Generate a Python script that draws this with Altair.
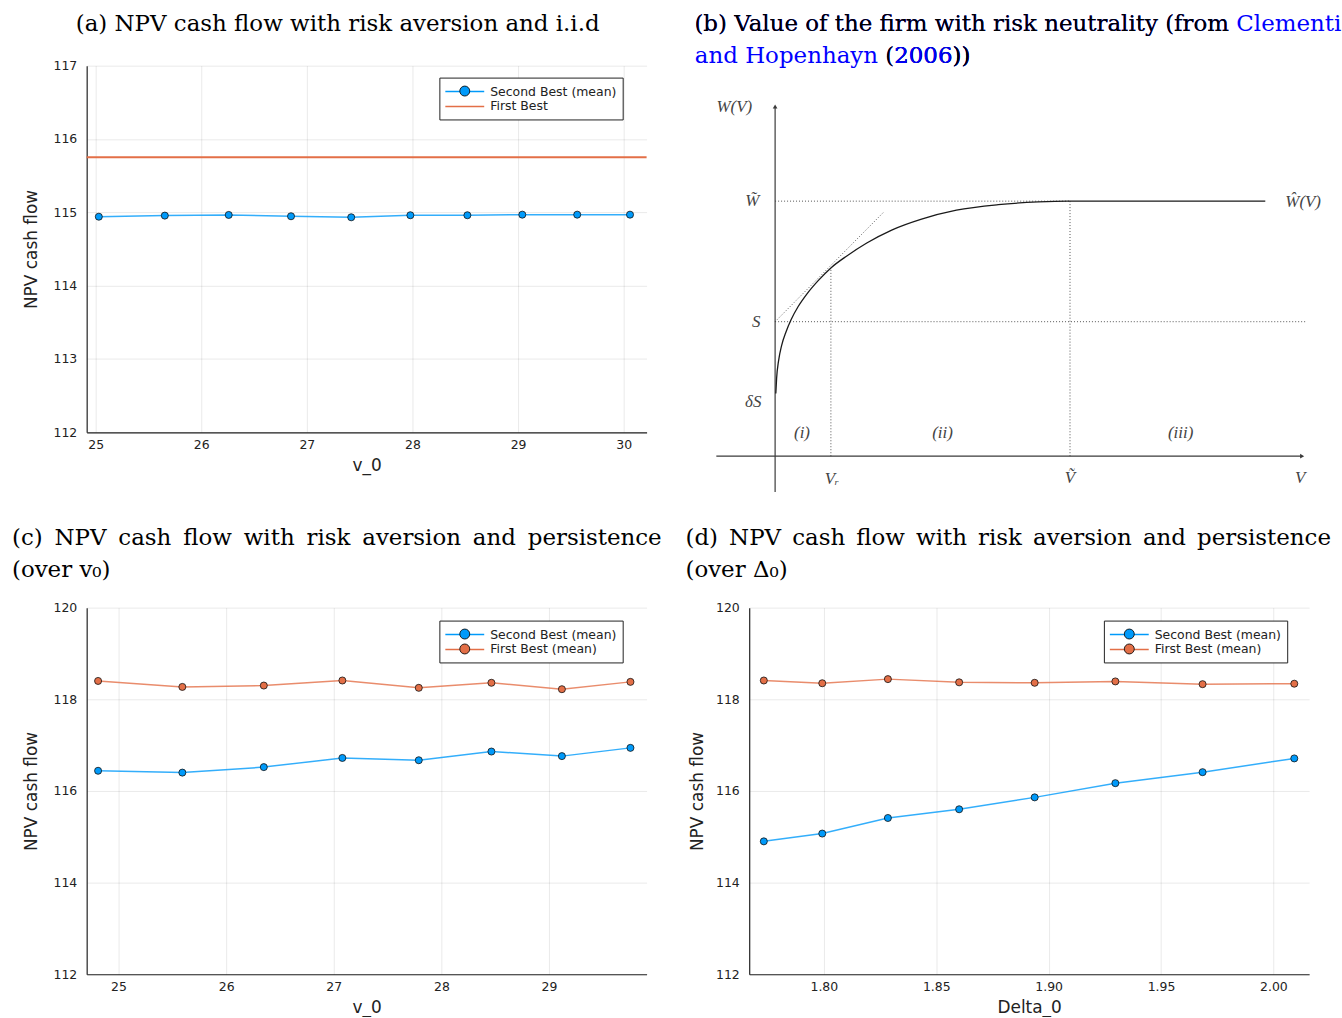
import altair as alt
import pandas as pd

# ---------------- data ----------------
# (a) NPV cash flow, risk aversion, i.i.d
a_v0 = [25.03, 25.655, 26.26, 26.85, 27.42, 27.98, 28.52, 29.04, 29.56, 30.06]
a_second = [114.94, 114.955, 114.964, 114.946, 114.932, 114.96, 114.96, 114.968, 114.968, 114.968]
a_first = [115.75]

# (c) persistence, over v_0
c_v0 = [24.81, 25.593, 26.35, 27.08, 27.79, 28.465, 29.12, 29.757]
c_second = [116.44, 116.40, 116.52, 116.72, 116.67, 116.86, 116.76, 116.94]
c_first = [118.40, 118.27, 118.30, 118.41, 118.25, 118.36, 118.22, 118.38]

# (d) persistence, over Delta_0
d_delta0 = [1.7733, 1.7993, 1.8285, 1.8602, 1.8938, 1.9297, 1.9685, 2.0093]
d_second = [114.90, 115.07, 115.41, 115.60, 115.86, 116.17, 116.41, 116.71]
d_first = [118.41, 118.35, 118.44, 118.37, 118.36, 118.39, 118.33, 118.34]

# (b) schematic diagram (Clementi & Hopenhayn 2006), in diagram units
b_curve_V = [0.007, 0.015, 0.035, 0.065, 0.11, 0.16, 0.23, 0.32, 0.43, 0.56, 0.72, 0.92,
             1.17, 1.47, 1.82, 2.24, 2.64, 2.94, 4.92]
b_curve_W = [0.63, 0.78, 0.96, 1.11, 1.25, 1.37, 1.50, 1.63, 1.76, 1.89, 2.01, 2.14,
             2.27, 2.38, 2.47, 2.525, 2.552, 2.56, 2.56]
b_dot_x1 = [0.0, 0.0, 0.56, 2.96, 0.0]
b_dot_y1 = [2.56, 1.35, 0.0, 0.0, 1.35]
b_dot_x2 = [2.96, 5.34, 0.56, 2.96, 1.09]
b_dot_y2 = [2.56, 1.35, 1.89, 2.56, 2.45]
b_ax_x1 = [0.0, -0.59]
b_ax_y1 = [-0.36, 0.0]
b_ax_x2 = [0.0, 5.28]
b_ax_y2 = [3.50, 0.0]
b_arrow_x = [0.0, 5.29]
b_arrow_y = [3.51, 0.0]
b_arrow_shape = ["triangle-up", "triangle-right"]
b_lab_text = ["W(V)", "W\u0303", "S", "\u03b4S", "(i)", "(ii)", "(iii)", "V\u1d63", "\u1e7c", "V", "\u0174(V)"]
b_lab_x = [-0.41, -0.23, -0.19, -0.22, 0.27, 1.68, 4.07, 0.57, 2.96, 5.27, 5.30]
b_lab_y = [3.50, 2.56, 1.35, 0.54, 0.23, 0.23, 0.23, -0.23, -0.22, -0.22, 2.55]

SB = "Second Best (mean)"
FB = "First Best"
FBM = "First Best (mean)"
title_a = "(a) NPV cash flow with risk aversion and i.i.d"
title_b1 = "(b) Value of the firm with risk neutrality (from Clementi"
title_b1_black = "(b) Value of the firm with risk neutrality (from"
title_b2 = "and Hopenhayn (2006))"
title_cd_line1 = "NPV cash flow with risk aversion and persistence"
title_c = "(c) " + title_cd_line1 + "\n(over v\u2080)"
title_d = "(d) " + title_cd_line1 + "\n(over \u0394\u2080)"
# emulate LaTeX justification by widening inter-word gaps of the first line
title_c = title_c.split("\n")[0].replace(" ", " \u2009") + "\n" + title_c.split("\n")[1]
title_d = title_d.split("\n")[0].replace(" ", " \u2006") + "\n" + title_d.split("\n")[1]

# ---------------- style ----------------
BLUE = "#009AFA"
ORANGE = "#E36F47"
LINKBLUE = "#0000FF"
W, H = 562, 368
SANS = "DejaVu Sans"
SERIF = "DejaVu Serif"
TFS = 23
NB = "\u00a0"  # suffix so that the marker legend does not merge with the line legend

LINE_PATH = "M-1.143,0L4.43,0"
DOT_PATH = "M2.428,0A0.714,0.714,0,1,1,1.0,0A0.714,0.714,0,1,1,2.428,0Z"


def legend_line(x, y):
    return alt.Legend(title=None, orient="none", legendX=x, legendY=y,
                      symbolType=LINE_PATH, symbolSize=196, symbolStrokeWidth=1.6,
                      symbolOpacity=1, labelOffset=29, labelFont=SANS, labelFontSize=12.5,
                      labelColor="#222", labelExpr="datum.label + '\u2003'",
                      padding=6, rowPadding=0, strokeColor="#222",
                      fillColor="white", cornerRadius=0)


def legend_dot(x, y):
    return alt.Legend(title=None, orient="none", legendX=x, legendY=y,
                      symbolType=DOT_PATH, symbolSize=196, symbolStrokeColor="#111",
                      symbolStrokeWidth=0.9, symbolOpacity=1, labelOffset=29,
                      labelFont=SANS, labelFontSize=12.5, labelOpacity=0,
                      padding=6, rowPadding=0)


def axis_x(values, fmt, title):
    return alt.Axis(values=values, format=fmt, title=title, grid=True, gridColor="#000",
                    gridOpacity=0.09, gridWidth=1, domainColor="#222", domainWidth=1.2,
                    ticks=False, labelFont=SANS, labelFontSize=12.5, labelColor="#222",
                    labelPadding=6, labelFlush=False, titleFont=SANS, titleFontSize=17,
                    titleFontWeight="normal", titleColor="#222", titleY=33,
                    titleBaseline="middle")


def axis_y(values, title_x):
    return alt.Axis(values=values, format="d", title="NPV cash flow", grid=True,
                    gridColor="#000", gridOpacity=0.09, gridWidth=1, domainColor="#222",
                    domainWidth=1.2, ticks=False, labelFont=SANS, labelFontSize=12.5,
                    labelColor="#222", labelPadding=10, titleFont=SANS, titleFontSize=17,
                    titleFontWeight="normal", titleColor="#222", titleX=title_x,
                    titleY=H / 2, titleAngle=270, titleBaseline="middle", titleAlign="center")


def title_text(text, x, y, color="black", align="left"):
    return alt.Chart(pd.DataFrame({"t": [text]})).mark_text(
        align=align, baseline="alphabetic", font=SERIF, fontSize=TFS, color=color,
        lineBreak="\n", lineHeight=32
    ).encode(x=alt.value(x), y=alt.value(y), text="t:N")


def data_panel(xs, second, first, xdom, xvals, xfmt, xtitle, ydom, yvals, ytx,
               legx, legy, title, tx, ty, first_as_rule=False):
    sx = alt.Scale(domain=xdom, nice=False, zero=False)
    sy = alt.Scale(domain=ydom, nice=False, zero=False)
    X = alt.X("x:Q", scale=sx, axis=axis_x(xvals, xfmt, xtitle))
    Y = alt.Y("y:Q", scale=sy, axis=axis_y(yvals, ytx))
    if first_as_rule:
        dom = [SB, FB]
        df = pd.DataFrame({"x": xs, "y": second, "series": SB, "series_p": SB + NB})
        dfr = pd.DataFrame({"y": first, "series": [FB]})
        fdom, frange = [SB + NB], [BLUE]
    else:
        dom = [SB, FBM]
        df = pd.concat([
            pd.DataFrame({"x": xs, "y": second, "series": SB, "series_p": SB + NB}),
            pd.DataFrame({"x": xs, "y": first, "series": FBM, "series_p": FBM + NB}),
        ], ignore_index=True)
        fdom, frange = [SB + NB, FBM + NB], [BLUE, ORANGE]
    color = alt.Color("series:N", scale=alt.Scale(domain=dom, range=[BLUE, ORANGE]),
                      legend=legend_line(legx, legy))
    fill = alt.Fill("series_p:N", scale=alt.Scale(domain=fdom, range=frange),
                    legend=legend_dot(legx, legy))
    layers = []
    if first_as_rule:
        layers.append(alt.Chart(dfr).mark_rule(strokeWidth=2).encode(
            y=alt.Y("y:Q", scale=sy), color=color))
    layers.append(alt.Chart(df).mark_line(strokeWidth=1.5, opacity=0.8).encode(
        x=X, y=Y, color=color, detail="series:N"))
    layers.append(alt.Chart(df).mark_point(filled=True, size=50, opacity=1, stroke="#111",
                                           strokeWidth=0.8).encode(
        x=alt.X("x:Q", scale=sx), y=alt.Y("y:Q", scale=sy), fill=fill))
    layers.append(title_text(title, tx, ty))
    return layers


# ---------------- panel (a) ----------------
layers_a = data_panel(a_v0, a_second, a_first, [24.915, 30.217], [25, 26, 27, 28, 29, 30], "d",
                      "v_0", [112, 117], [112, 113, 114, 115, 116, 117], -55, 354, 12,
                      title_a, -11, -35, first_as_rule=True)
# invisible page anchor: fixes the top-left corner of the page
anchor = alt.Chart(pd.DataFrame({"t": [0]})).mark_rule(strokeWidth=0.5, opacity=0).encode(
    x=alt.value(-86.75), x2=alt.value(-80), y=alt.value(-63.75))
panel_a = alt.layer(*layers_a, anchor).properties(width=W, height=H)

# ---------------- panel (c) ----------------
layers_c = data_panel(c_v0, c_second, c_first, [24.704, 29.907], [25, 26, 27, 28, 29], "d",
                      "v_0", [112, 120], [112, 114, 116, 118, 120], -55, 354, 13,
                      title_c, -75, -63)
panel_c = alt.layer(*layers_c).properties(width=W, height=H)

# ---------------- panel (d) ----------------
layers_d = data_panel(d_delta0, d_second, d_first, [1.7668, 2.0159],
                      [1.80, 1.85, 1.90, 1.95, 2.00], ".2f", "Delta_0", [112, 120],
                      [112, 114, 116, 118, 120], -52, 356, 13, title_d, -64, -63)
panel_d = alt.layer(*layers_d).properties(width=W, height=H)

# ---------------- panel (b): diagram ----------------
sbx = alt.Scale(domain=[-0.26, 5.36], nice=False, zero=False)
sby = alt.Scale(domain=[0.24, 3.92], nice=False, zero=False)
DG = "#3a3a3a"

curve = alt.Chart(pd.DataFrame({"V": b_curve_V, "W": b_curve_W})).mark_line(
    color="#1a1a1a", strokeWidth=1.3, interpolate="monotone").encode(
    x=alt.X("V:Q", scale=sbx, axis=None), y=alt.Y("W:Q", scale=sby, axis=None))
dots = alt.Chart(pd.DataFrame({"x1": b_dot_x1, "y1": b_dot_y1, "x2": b_dot_x2, "y2": b_dot_y2})
                 ).mark_rule(color="#555", strokeWidth=1, strokeDash=[1, 2]).encode(
    x=alt.X("x1:Q", scale=sbx, axis=None), y=alt.Y("y1:Q", scale=sby, axis=None),
    x2="x2:Q", y2="y2:Q")
axes_b = alt.Chart(pd.DataFrame({"x1": b_ax_x1, "y1": b_ax_y1, "x2": b_ax_x2, "y2": b_ax_y2})
                   ).mark_rule(color=DG, strokeWidth=1.2).encode(
    x=alt.X("x1:Q", scale=sbx, axis=None), y=alt.Y("y1:Q", scale=sby, axis=None),
    x2="x2:Q", y2="y2:Q")
arrows = alt.Chart(pd.DataFrame({"x": b_arrow_x, "y": b_arrow_y, "s": b_arrow_shape})
                   ).mark_point(filled=True, size=22, opacity=1, color=DG).encode(
    x=alt.X("x:Q", scale=sbx, axis=None), y=alt.Y("y:Q", scale=sby, axis=None),
    shape=alt.Shape("s:N", scale=None))
labels_b = alt.Chart(pd.DataFrame({"x": b_lab_x, "y": b_lab_y, "t": b_lab_text})
                     ).mark_text(font="Liberation Serif", fontStyle="italic", fontSize=17,
                                 color="#444", align="center", baseline="middle").encode(
    x=alt.X("x:Q", scale=sbx, axis=None), y=alt.Y("y:Q", scale=sby, axis=None), text="t:N")

tb = [
    title_text(title_b1, -55, -35, color=LINKBLUE),
    title_text(title_b1_black, -55, -35, color="black"),
    title_text(title_b2, 222, -3, color=LINKBLUE, align="right"),
    title_text("(2006))", 222, -3, color="black", align="right"),
    title_text("2006))", 222, -3, color=LINKBLUE, align="right"),
    title_text("))", 222, -3, color="black", align="right"),
]
panel_b = alt.layer(dots, axes_b, arrows, curve, labels_b, *tb).properties(width=W, height=H)

chart = alt.concat(
    panel_a, panel_b, panel_c, panel_d, columns=2,
    spacing={"row": 176, "column": 103}, bounds="flush"
).resolve_scale(color="independent", fill="independent").resolve_legend(
    color="independent", fill="independent"
).properties(padding=0, background="white").configure_view(strokeWidth=0)

chart.save("out.html", embed_options={"renderer": "svg", "actions": False})
